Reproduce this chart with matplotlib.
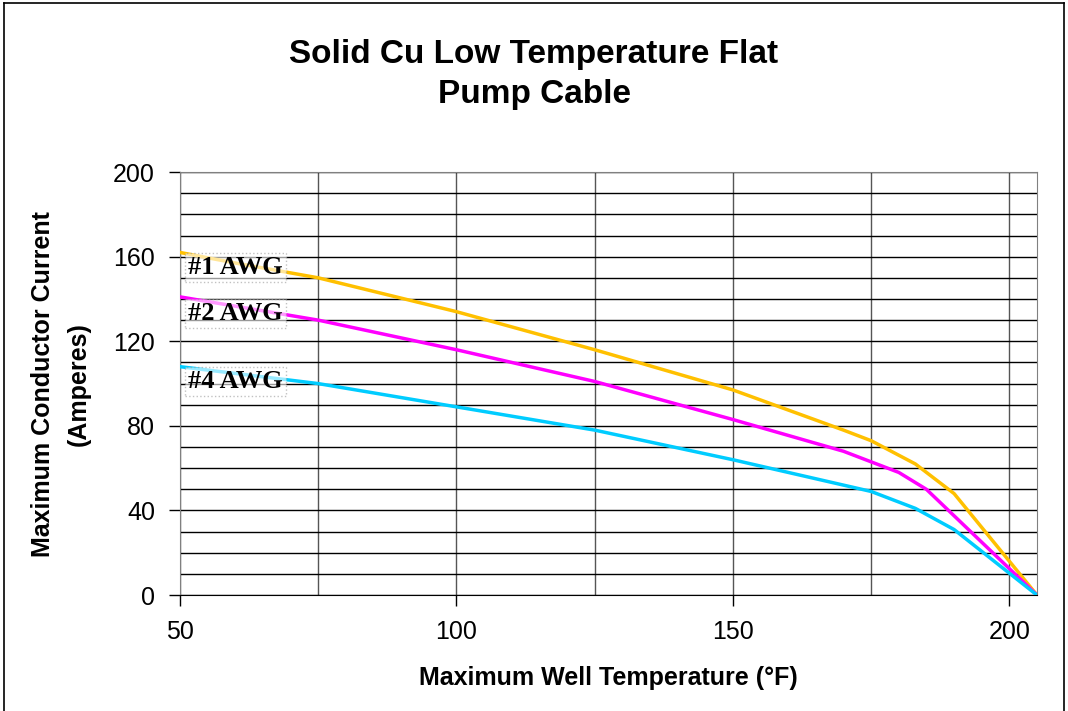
import numpy as np
import matplotlib.pyplot as plt
from matplotlib.lines import Line2D

# Maximum well temperature (F) vs maximum conductor current (A)
temp1 = [50, 60, 75, 100, 125, 150, 170, 175, 183, 190, 205]
awg1 = [162, 157, 150, 134, 116, 97, 78, 73, 62, 48, 0]

temp2 = [50, 75, 100, 125, 150, 170, 175, 180, 185, 205]
awg2 = [141, 130, 116, 101, 83, 68, 63, 58, 50, 0]

temp4 = [50, 75, 100, 125, 150, 175, 183, 190, 205]
awg4 = [108, 100, 89, 78, 64, 49, 41, 31, 0]

labels = ["#1 AWG", "#2 AWG", "#4 AWG"]
label_y = [155, 133, 101]

fig = plt.figure(figsize=(10.68, 7.11), dpi=100)
ax = fig.add_axes([0.1685, 0.163, 0.8025, 0.595])

ax.plot(temp1, awg1, color="#FFC000", lw=2.5, zorder=3)
ax.plot(temp2, awg2, color="#FF00FF", lw=2.5, zorder=3)
ax.plot(temp4, awg4, color="#00CCFF", lw=2.5, zorder=3)

ax.set_xlim(50, 205)
ax.set_ylim(0, 200)
ax.set_xticks([50, 100, 150, 200])
ax.set_xticks([75, 125, 175], minor=True)
ax.set_yticks(np.arange(0, 201, 40))
ax.set_yticks(np.arange(0, 201, 10), minor=True)
ax.grid(which="both", axis="y", color="black", lw=1.0)
ax.grid(which="both", axis="x", color="#555555", lw=1.0)
ax.tick_params(which="major", length=8, width=1, labelsize=18, pad=10)
ax.tick_params(which="minor", length=0)
for s in ax.spines.values():
    s.set_color("#808080")
ax.spines["bottom"].set_color("black")

for lab, yy in zip(labels, label_y):
    ax.text(51.5, yy, lab, fontsize=19, fontweight="bold", family="Liberation Serif",
            va="center", ha="left", zorder=4,
            bbox=dict(facecolor="white", alpha=0.6, edgecolor="#999999",
                      linestyle=":", pad=2))

ax.set_xlabel("Maximum Well Temperature (°F)", fontsize=18, fontweight="bold",
              family="Liberation Sans", labelpad=16)
ax.set_ylabel("Maximum Conductor Current\n(Amperes)", fontsize=18, fontweight="bold",
              family="Liberation Sans", labelpad=16, linespacing=1.6)
for t in ax.get_xticklabels() + ax.get_yticklabels():
    t.set_family("Liberation Sans")

fig.text(0.5, 0.895, "Solid Cu Low Temperature Flat\nPump Cable", ha="center", va="center",
         fontsize=24, fontweight="bold", family="Liberation Sans", linespacing=1.4)

# chart border
fig.add_artist(Line2D([0.004, 0.004], [0, 0.996], color="black", lw=1.2))
fig.add_artist(Line2D([0.004, 0.996], [0.996, 0.996], color="black", lw=1.2))
fig.add_artist(Line2D([0.996, 0.996], [0, 0.996], color="black", lw=1.2))

fig.savefig("out.png", dpi=100)
